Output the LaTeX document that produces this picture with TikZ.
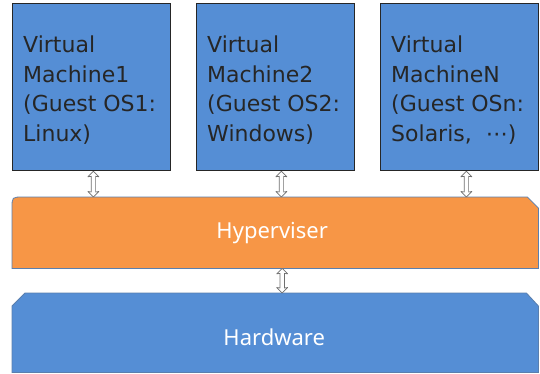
\documentclass[tikz,border=0pt]{standalone}
\usepackage{fontspec}
\setmainfont{DejaVu Sans}
\newfontfamily\layerfont{Noto Sans}
\usetikzlibrary{calc}
\definecolor{vmblue}{HTML}{558ED5}
\definecolor{hvorange}{HTML}{F79646}
\definecolor{edgeblue}{HTML}{5A7FAE}
\definecolor{linkgray}{HTML}{6F6F6F}
\begin{document}
\begin{tikzpicture}[x=1pt,y=-1pt,
  vmbox/.style={draw=black!85, line width=0.8pt, fill=vmblue, minimum width=158pt, minimum height=167pt, inner sep=0pt, anchor=north west},
  vmtext/.style={anchor=north west, inner sep=0pt, align=left, font=\fontsize{22}{29.5}\selectfont, text=black!85},
  layer/.style={minimum width=526pt, inner sep=0pt, anchor=north west},
  layerline/.style={draw=edgeblue, line width=0.8pt},
  layertext/.style={font=\layerfont\fontsize{22}{26}\selectfont, text=white, inner sep=0pt},
  link/.style={draw=linkgray, fill=white, line width=0.7pt, line join=round,
    to path={let \p1=(\tikztostart), \p2=(\tikztotarget) in
      (\x1,\y1) -- (\x1+5.5pt,\y1-5.5pt) -- (\x1+2.2pt,\y1-5pt) -- (\x1+2.2pt,\y2+5pt) -- (\x1+5.5pt,\y2+5.5pt)
      -- (\x1,\y2) -- (\x1-5.5pt,\y2+5.5pt) -- (\x1-2.2pt,\y2+5pt) -- (\x1-2.2pt,\y1-5pt) -- (\x1-5.5pt,\y1-5.5pt) -- cycle}}
]
\useasboundingbox (0,0) rectangle (540,374);
% virtual machines
\node[vmbox] (vm1) at (12,3) {};
\node[vmbox] (vm2) at (196,3) {};
\node[vmbox] (vm3) at (380,3) {};
\node[vmtext] (t1) at (23,36) {Virtual\\Machine1\\(Guest OS1:\\Linux)};
\node[vmtext] (t2) at (207,36) {Virtual\\Machine2\\(Guest OS2:\\Windows)};
\node[vmtext] (t3) at (391,36) {Virtual\\MachineN\\(Guest OSn:\\Solaris,\ \ ⋯)};
% hyperviser
\node[layer, minimum height=71pt] (hyp) at (12,197) {};
\draw[layerline, fill=hvorange] (hyp.south west) -- ($(hyp.north west)+(0,11)$) .. controls (hyp.north west) .. ($(hyp.north west)+(11,0)$) -- ($(hyp.north east)+(-11,0)$) -- ($(hyp.north east)+(0,11)$) -- (hyp.south east) -- cycle;
\node[layertext] (hyplabel) at ($(hyp.center)+(-3,0.5)$) {Hyperviser};
% hardware
\node[layer, minimum height=79pt] (hw) at (12,293) {};
\draw[layerline, fill=vmblue] (hw.south west) -- ($(hw.north west)+(0,13)$) -- ($(hw.north west)+(13,0)$) -- ($(hw.north east)+(-12,0)$) -- ($(hw.north east)+(0,13)$) -- (hw.south east) -- cycle;
\node[layertext] (hwlabel) at ($(hw.center)+(-1,4.5)$) {Hardware};
% links
\draw[link] ([xshift=2pt,yshift=-0.5pt]vm1.south) to ([xshift=2pt]vm1.south |- hyp.north);
\draw[link] ([xshift=6pt,yshift=-0.5pt]vm2.south) to ([xshift=6pt]vm2.south |- hyp.north);
\draw[link] ([xshift=7pt,yshift=-0.5pt]vm3.south) to ([xshift=7pt]vm3.south |- hyp.north);
\draw[link] ([xshift=7pt]hyp.south) to ([xshift=7pt]hyp.south |- hw.north);
\end{tikzpicture}
\end{document}
